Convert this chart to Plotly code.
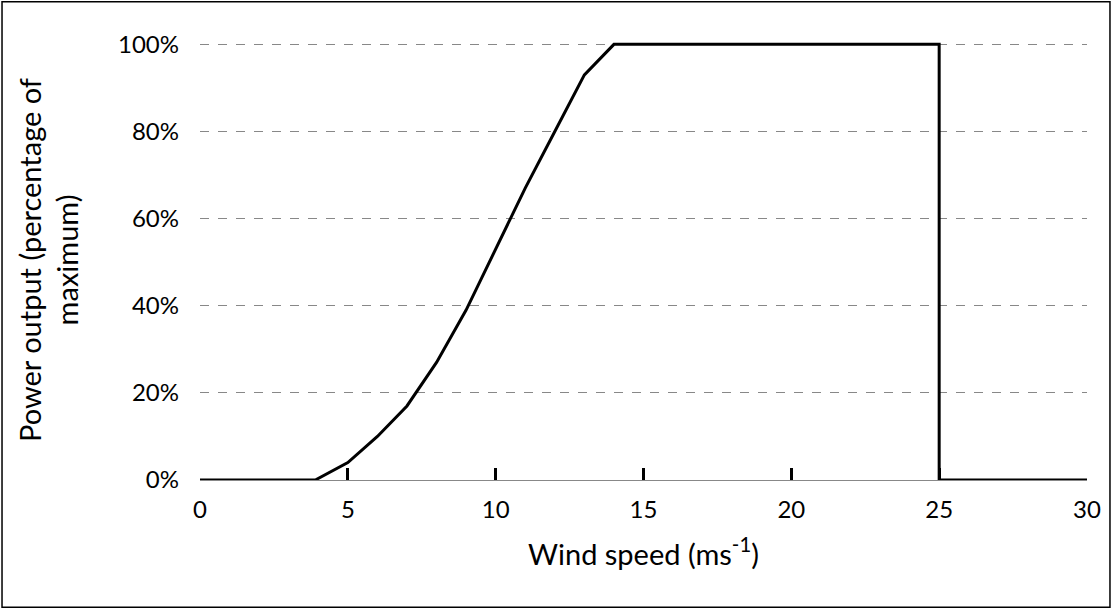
import plotly.graph_objects as go

wind_speed = [0, 3.9, 5, 6, 7, 8, 9, 10, 11, 12, 13, 14, 25, 25, 30]
power_frac = [0, 0, 0.04, 0.10, 0.17, 0.27, 0.39, 0.53, 0.67, 0.80, 0.93, 1.0, 1.0, 0, 0]

y_ticks = [0, 0.2, 0.4, 0.6, 0.8, 1.0]
x_ticks = [0, 5, 10, 15, 20, 25, 30]

fig = go.Figure()
fig.add_trace(go.Scatter(x=wind_speed, y=power_frac, mode="lines",
                         line=dict(color="black", width=3), cliponaxis=False))

fig.update_layout(
    width=1112, height=608,
    margin=dict(l=200, r=25, t=40, b=128),
    paper_bgcolor="white", plot_bgcolor="white",
    font=dict(family="Lato, DejaVu Sans", size=24, color="black"),
    showlegend=False,
    xaxis=dict(range=[0, 30], tickvals=x_ticks, showgrid=False, zeroline=False,
               showline=True, linecolor="#888", linewidth=1,
               ticks="inside", ticklen=12, tickwidth=3, tickcolor="black",
               ticklabelstandoff=8,
               title=dict(text="Wind speed (ms<sup>-1</sup>)", standoff=22)),
    yaxis=dict(range=[0, 1.01], tickvals=y_ticks, tickformat=".0%", zeroline=False,
               showgrid=True, gridcolor="#888", griddash="dash", gridwidth=1,
               ticks="", ticklabelstandoff=20,
               title=dict(text="Power output (percentage of<br>maximum)", standoff=30)),
    shapes=[dict(type="rect", xref="paper", yref="paper",
                 x0=-0.2232, x1=1.0259, y0=-0.289, y1=1.087,
                 line=dict(color="black", width=1.5))],
)
fig.write_html("out.html", post_script="document.body.style.margin='0';",
               config={"displayModeBar": False})
